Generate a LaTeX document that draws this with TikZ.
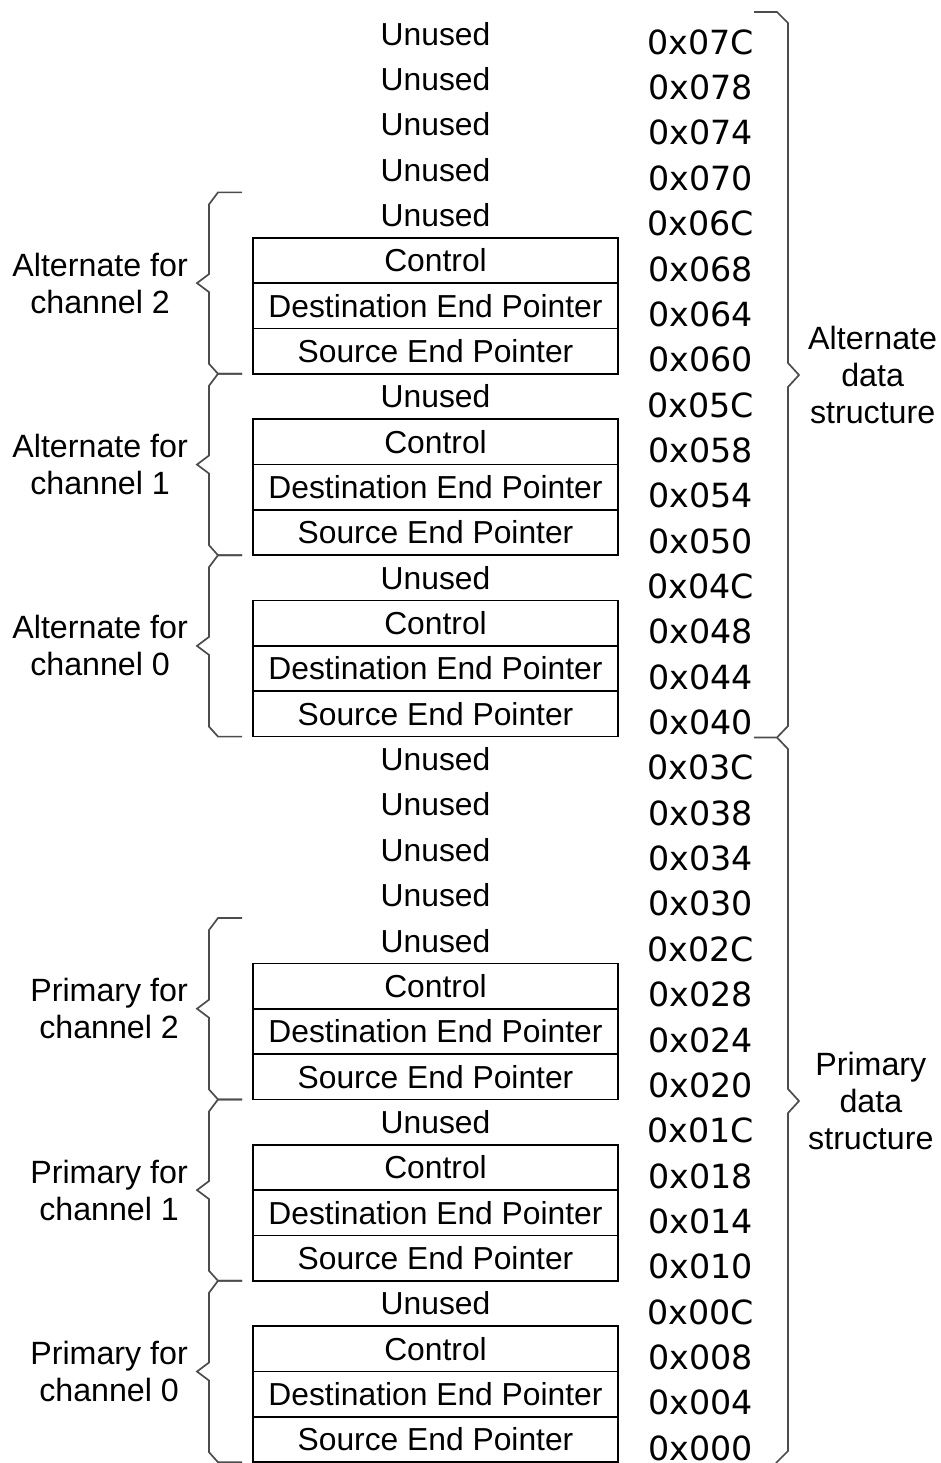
\documentclass[tikz,border=0pt]{standalone}
\usepackage{fontspec}
\setmainfont{Liberation Sans}
\newfontfamily\addrfont{DejaVu Sans}
\usepackage{tikz}
\usetikzlibrary{positioning, calc}

% brace on the left of one channel block: first row, row after the block
\newcommand{\grpbrace}[2]{%
  \pgfmathsetmacro{\braceTop}{11+45.35*#1}%
  \pgfmathsetmacro{\braceBot}{11+45.35*#2}%
  \pgfmathsetmacro{\braceMid}{(\braceTop+\braceBot)/2}%
  \draw[brace] (242,\braceTop) -- (218,\braceTop) -- (209,\braceTop+12)
       -- (209,\braceMid-9) -- (197,\braceMid) -- (209,\braceMid+9)
       -- (209,\braceBot-10) -- (218,\braceBot) -- (242,\braceBot);%
}

\begin{document}
\begin{tikzpicture}[
    x=1pt, y=-1pt,
    slot/.style={minimum width=365pt, minimum height=45.35pt, inner sep=0pt,
                 font=\fontsize{31.8}{37}\selectfont},
    field/.style={slot, draw, line width=1.6pt},
    addr/.style={inner sep=0pt, font=\addrfont\fontsize{33.3}{37}\selectfont},
    grplabel/.style={inner sep=0pt, align=center, font=\fontsize{32.2}{37}\selectfont},
    brace/.style={draw=black!70, line width=1.7pt, line join=miter},
]
    \useasboundingbox (0,0) rectangle (940,1463);

    % ── Memory rows ───────────────────────────────
    \foreach \sty/\txt/\adr [count=\k from 0] in {
        slot/Unused/07C, slot/Unused/078, slot/Unused/074, slot/Unused/070,
        slot/Unused/06C, field/Control/068, field/Destination End Pointer/064, field/Source End Pointer/060,
        slot/Unused/05C, field/Control/058, field/Destination End Pointer/054, field/Source End Pointer/050,
        slot/Unused/04C, field/Control/048, field/Destination End Pointer/044, field/Source End Pointer/040,
        slot/Unused/03C, slot/Unused/038, slot/Unused/034, slot/Unused/030,
        slot/Unused/02C, field/Control/028, field/Destination End Pointer/024, field/Source End Pointer/020,
        slot/Unused/01C, field/Control/018, field/Destination End Pointer/014, field/Source End Pointer/010,
        slot/Unused/00C, field/Control/008, field/Destination End Pointer/004, field/Source End Pointer/000}
    {
        \node[\sty] (row\k) at (435.5, {11+45.35*(\k+0.5)}) {\txt};
        \node[addr] (addr\k) at (700.5, {11+45.35*(\k+0.5)+8.5}) {0x\adr};
    }

    % ── Channel braces (left) ─────────────────────
    \grpbrace{4}{8}
    \grpbrace{8}{12}
    \grpbrace{12}{16}
    \grpbrace{20}{24}
    \grpbrace{24}{28}
    \grpbrace{28}{32}

    \node[grplabel, anchor=east] (alt2) at (188, {11+45.35*6})  {Alternate for\\channel 2};
    \node[grplabel, anchor=east] (alt1) at (188, {11+45.35*10}) {Alternate for\\channel 1};
    \node[grplabel, anchor=east] (alt0) at (188, {11+45.35*14}) {Alternate for\\channel 0};
    \node[grplabel, anchor=east] (pri2) at (188, {11+45.35*22}) {Primary for\\channel 2};
    \node[grplabel, anchor=east] (pri1) at (188, {11+45.35*26}) {Primary for\\channel 1};
    \node[grplabel, anchor=east] (pri0) at (188, {11+45.35*30}) {Primary for\\channel 0};

    % ── Data structure braces (right) ─────────────
    \draw[brace] (754,12) -- (777,12) -- (788,23) -- (788,363) -- (799,375)
         -- (788,387) -- (788,726) -- (777,737.5) -- (754,737.5);
    \draw[brace] (777,737.5) -- (788,749) -- (788,1089) -- (799,1101)
         -- (788,1113) -- (788,1451) -- (776,1463);

    \node[grplabel, anchor=west] (altds) at (808, 375)  {Alternate\\data\\structure};
    \node[grplabel, anchor=west] (prids) at (808, 1101) {Primary\\data\\structure};
\end{tikzpicture}
\end{document}
